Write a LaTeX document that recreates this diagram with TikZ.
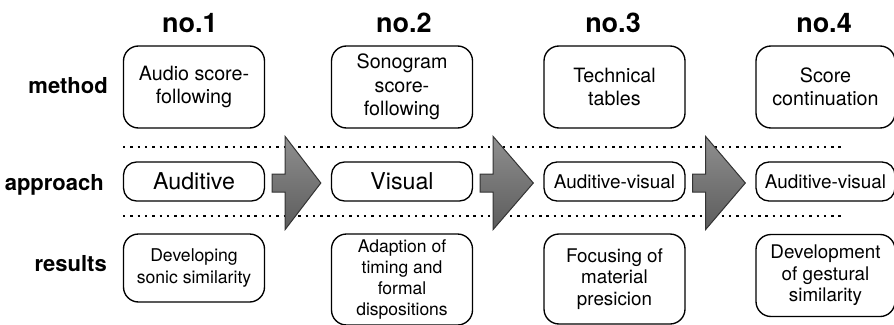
\documentclass[tikz,border=0pt]{standalone}
\usepackage{fontspec}
\setmainfont{TeX Gyre Heros}
\usetikzlibrary{calc}

\begin{document}
\begin{tikzpicture}[x=1pt,y=-1pt,
  hdr/.style={font=\bfseries\fontsize{27}{30}\selectfont, anchor=base, inner sep=0pt},
  rowlbl/.style={font=\bfseries\fontsize{22}{26}\selectfont, anchor=base east, inner sep=0pt},
  card/.style={draw, line width=1.35pt, inner sep=0pt, align=center},
  mbox/.style={card, rounded corners=15pt, minimum width=141pt, minimum height=82pt,
    font=\fontsize{19.7}{23.5}\selectfont},
  abox/.style={card, rounded corners=13pt, minimum width=141pt, minimum height=39pt},
  rbox/.style={card, rounded corners=15pt, minimum width=141pt},
  sep/.style={line width=1.1pt, dash pattern=on 2.4pt off 4.9pt},
  blockarrow/.style={draw=black!80, line width=1pt, line join=miter,
    top color=black!44, bottom color=black!64}
]
\useasboundingbox (0,0) rectangle (894,324);

% column headings
\node[hdr] (h1) at (190,32) {no.1};
\node[hdr] (h2) at (404,32) {no.2};
\node[hdr] (h3) at (613,32) {no.3};
\node[hdr] (h4) at (824,32) {no.4};

% row labels
\node[rowlbl] (lm) at (108,93)  {method};
\node[rowlbl] (la) at (104,190) {approach};
\node[rowlbl] (lr) at (107,271) {results};

% separators of the approach row
\coordinate (s1a) at (123,147);
\coordinate (s1b) at (843,147);
\coordinate (s2a) at (123,216);
\coordinate (s2b) at (843,216);
\draw[sep] (s1a) -- (s1b);
\draw[sep] (s2a) -- (s2b);

% method row
\node[mbox] (m1) at (194,87)   {Audio score-\\following};
\node[mbox] (m2) at (402,87)   {Sonogram\\score-\\following};
\node[mbox] (m3) at (614.5,87) {Technical\\tables};
\node[mbox, minimum width=139pt] (m4) at (825.5,87) {Score\\continuation};

% approach row
\node[abox, font=\fontsize{23.2}{26}\selectfont] (a1) at (194,181.5)   {Auditive};
\node[abox, font=\fontsize{23.2}{26}\selectfont] (a2) at (402,181.5)   {Visual};
\node[abox, font=\fontsize{18.9}{22}\selectfont] (a3) at (614.5,181.5) {Auditive-visual};
\node[abox, font=\fontsize{18.9}{22}\selectfont, minimum width=139pt] (a4) at (825.5,181.5) {Auditive-visual};

% results row
\node[rbox, minimum height=68pt, font=\fontsize{17.6}{21}\selectfont] (r1) at (194,268) {Developing\\sonic similarity};
\node[rbox, minimum height=91pt, font=\fontsize{17.5}{20.8}\selectfont] (r2) at (402,279.5) {Adaption of\\timing and\\formal\\dispositions};
\node[rbox, minimum height=90pt, font=\fontsize{18.8}{21.5}\selectfont] (r3) at (614.5,279) {Focusing of\\material\\presicion};
\node[rbox, minimum height=82pt, minimum width=139pt, font=\fontsize{18.8}{21.5}\selectfont] (r4) at (825.5,275.5) {Development\\of gestural\\similarity};

% block arrows between the approach boxes
\newcommand\stagearrow[2]{%
  \path let \p1=($(#1.east)+(7,1.5)$), \p2=($(#2.west)+(-10,1.5)$) in
    [blockarrow] (\x1,\y1-9) -- (\x1+13,\y1-9) -- (\x1+13,\y1-46.5)
    -- (\x2,\y1) -- (\x1+13,\y1+46.5) -- (\x1+13,\y1+9) -- (\x1,\y1+9) -- cycle;}
\stagearrow{a1}{a2}
\stagearrow{a2}{a3}
\stagearrow{a3}{a4}
\end{tikzpicture}
\end{document}
